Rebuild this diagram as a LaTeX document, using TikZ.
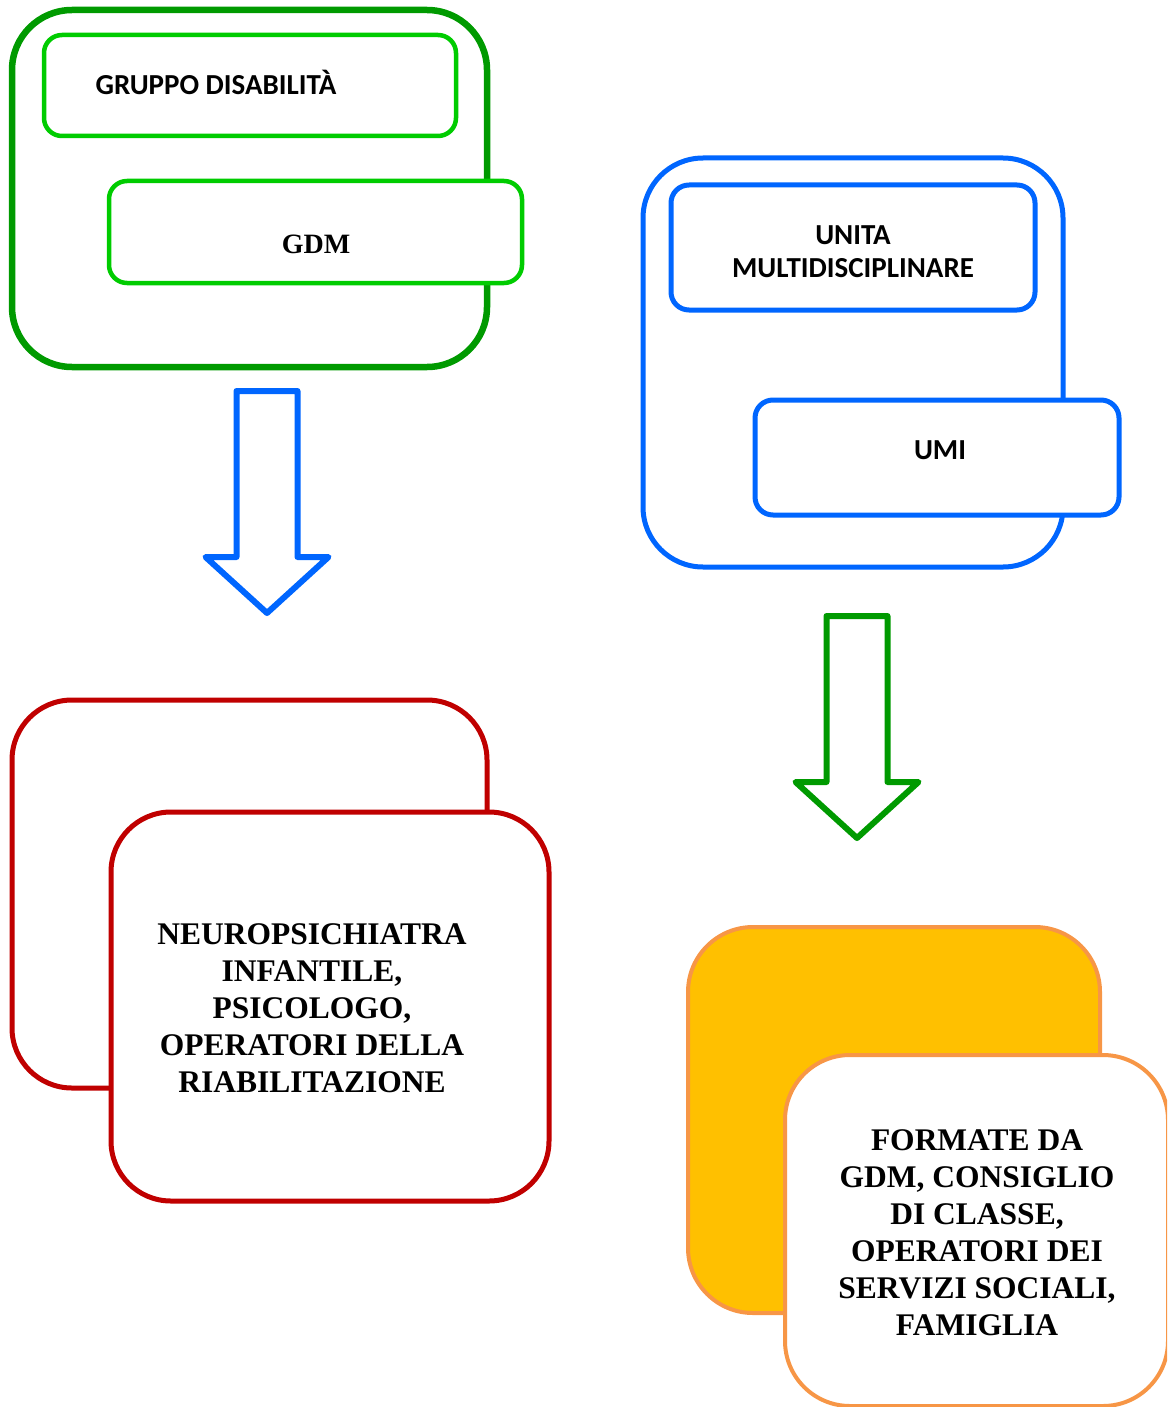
\documentclass[tikz,border=0pt]{standalone}
\usepackage{fontspec}
\setmainfont{Liberation Serif}
\newfontfamily\calibrifont{Carlito}
\usetikzlibrary{positioning}
\definecolor{dkgreen}{HTML}{009A00}
\definecolor{ltgreen}{HTML}{00CC00}
\definecolor{myblue}{HTML}{0066FF}
\definecolor{myred}{HTML}{C00000}
\definecolor{myorange}{HTML}{F79646}
\definecolor{mygold}{HTML}{FFC000}
\begin{document}
\begin{tikzpicture}
[x=1pt, y=-1pt, line join=round, line cap=round,
 box/.style={draw=#1, fill=white, rounded corners=60pt, inner sep=0pt},
 smallbox/.style={box=#1, rounded corners=18pt},
 sanslab/.style={font=\calibrifont\bfseries\fontsize{29}{33}\selectfont, align=center},
 seriflab/.style={font=\bfseries\fontsize{31.5}{37}\selectfont, align=center}]
\useasboundingbox (0,0) rectangle (1167,1407);
\clip (0,0) rectangle (1167,1407);
% gruppo disabilita
\node[box=dkgreen, line width=6.5pt, minimum width=475pt, minimum height=357pt] (gdis) at (249.5,188.5) {};
\node[smallbox=ltgreen, line width=4.5pt, minimum width=412pt, minimum height=101pt] (gruppo) at (250,85.5) {};
\node[sanslab] (gruppotxt) at (216,82) {GRUPPO DISABILITÀ};
\node[smallbox=ltgreen, line width=4.5pt, minimum width=413pt, minimum height=102pt] (gdm) at (315.5,232) {};
\node[seriflab, font=\bfseries\fontsize{28}{33}\selectfont] (gdmtxt) at (316,244) {GDM};
% unita multidisciplinare
\node[box=myblue, line width=5pt, minimum width=420pt, minimum height=409pt] (um) at (853,362.5) {};
\node[smallbox=myblue, line width=5pt, minimum width=364pt, minimum height=125pt] (unita) at (853,247.5) {};
\node[sanslab] (unitatxt) at (853,251.5) {UNITA\\MULTIDISCIPLINARE};
\node[smallbox=myblue, line width=5pt, minimum width=364pt, minimum height=115pt] (umi) at (937,457.5) {};
\node[sanslab] (umitxt) at (940,450) {UMI};
% block arrows
\coordinate (arrL) at (267,391);
\coordinate (arrR) at (857,616);
\foreach \a/\c in {arrL/myblue, arrR/dkgreen}
\draw[\c, line width=6pt] (\a) ++(-30.5,0) -- ++(61,0) -- ++(0,166) -- ++(31,0)
  -- ++(-61.5,56) -- ++(-61.5,-56) -- ++(31,0) -- cycle;
% neuropsichiatra
\node[box=myred, line width=5pt, minimum width=475pt, minimum height=388pt] (nback) at (249.5,894) {};
\node[box=myred, line width=5pt, minimum width=438pt, minimum height=389pt] (nfront) at (330,1006.5) {};
\node[seriflab] (nfronttxt) at (312,1008) {NEUROPSICHIATRA\\INFANTILE,\\PSICOLOGO,\\OPERATORI DELLA\\RIABILITAZIONE};
% formate da
\node[box=myorange, fill=mygold, rounded corners=65pt, line width=4pt, minimum width=412pt, minimum height=386pt] (fback) at (894,1120) {};
\node[box=myorange, rounded corners=65pt, line width=4pt, minimum width=383pt, minimum height=351pt] (ffront) at (976.5,1230.5) {};
\node[seriflab] (ffronttxt) at (977,1233) {FORMATE DA\\GDM, CONSIGLIO\\DI CLASSE,\\OPERATORI DEI\\SERVIZI SOCIALI,\\FAMIGLIA};
\end{tikzpicture}
\end{document}
